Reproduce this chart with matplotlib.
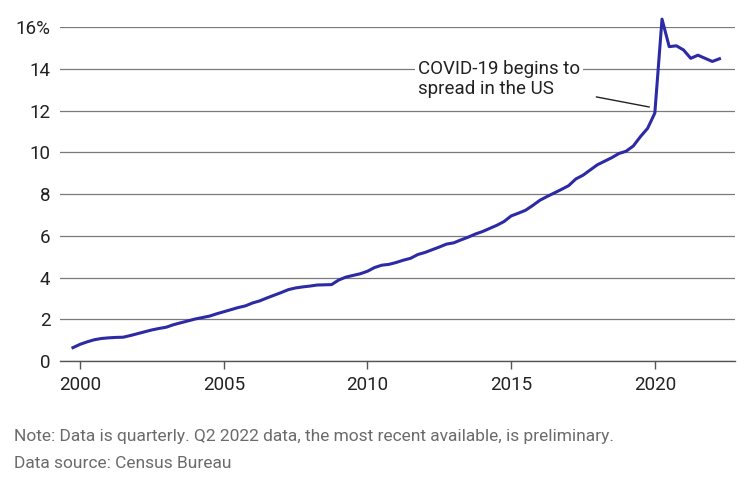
import matplotlib
matplotlib.use("Agg")
import matplotlib.pyplot as plt

plt.rcParams['font.family'] = ['Roboto', 'DejaVu Sans']

# Quarterly e-commerce share of retail sales (%), Q4 1999 - Q2 2022
first_year = 1999.75
share = [
    0.64,
    0.80, 0.92, 1.02, 1.08,   # 2000
    1.11, 1.13, 1.14, 1.22,   # 2001
    1.31, 1.40, 1.49, 1.56,   # 2002
    1.62, 1.74, 1.83, 1.92,   # 2003
    2.01, 2.08, 2.15, 2.26,   # 2004
    2.36, 2.46, 2.56, 2.64,   # 2005
    2.78, 2.88, 3.02, 3.15,   # 2006
    3.28, 3.42, 3.50, 3.55,   # 2007
    3.59, 3.64, 3.65, 3.66,   # 2008
    3.88, 4.02, 4.10, 4.18,   # 2009
    4.30, 4.48, 4.59, 4.63,   # 2010
    4.72, 4.83, 4.92, 5.10,   # 2011
    5.20, 5.33, 5.46, 5.60,   # 2012
    5.66, 5.80, 5.93, 6.08,   # 2013
    6.20, 6.35, 6.50, 6.68,   # 2014
    6.95, 7.08, 7.22, 7.45,   # 2015
    7.70, 7.88, 8.05, 8.22,   # 2016
    8.40, 8.72, 8.90, 9.15,   # 2017
    9.40, 9.57, 9.74, 9.94,   # 2018
    10.05, 10.30, 10.75, 11.15,  # 2019
    11.88, 16.38, 15.06, 15.10,  # 2020
    14.90, 14.50, 14.65, 14.50,  # 2021
    14.35, 14.48,                # 2022
]
dates = [first_year + 0.25 * i for i in range(len(share))]

year_ticks = [2000, 2005, 2010, 2015, 2020]
y_ticks = [0, 2, 4, 6, 8, 10, 12, 14, 16]
y_labels = ['0', '2', '4', '6', '8', '10', '12', '14', '16%']

note = "Note: Data is quarterly. Q2 2022 data, the most recent available, is preliminary."
source = "Data source: Census Bureau"

fig = plt.figure(figsize=(7.5, 4.86), dpi=100)
ax = fig.add_axes([0.08, 0.2572, 0.90, 0.6872])

ax.plot(dates, share, color='#2d2aa6', linewidth=2.2, clip_on=False,
        solid_joinstyle='round', zorder=3)

ax.set_xlim(1999.30, 2022.79)
ax.set_ylim(0, 16)
ax.set_xticks(year_ticks)
ax.set_xticklabels([str(y) for y in year_ticks])
ax.set_yticks(y_ticks)
ax.set_yticklabels(y_labels)

ax.grid(axis='y', color='#7a7a7a', linewidth=0.9)
ax.set_axisbelow(True)
for side in ['left', 'right', 'top']:
    ax.spines[side].set_visible(False)
ax.spines['bottom'].set_color('#555555')
ax.spines['bottom'].set_linewidth(1.0)

ax.tick_params(axis='y', length=0, pad=7, labelsize=13.5, labelcolor='#222222')
ax.tick_params(axis='x', length=6, width=1, color='#555555', pad=5,
               labelsize=13.5, labelcolor='#222222')

# annotation
ax.text(2011.76, 13.5, "COVID-19 begins to\nspread in the US", fontsize=13.5,
        color='#222222', ha='left', va='center', linespacing=1.15,
        bbox=dict(facecolor='white', edgecolor='none', pad=2), zorder=4)
ax.plot([2017.97, 2019.80], [12.65, 12.17], color='#222222', linewidth=1.0, zorder=4)

fig.text(14 / 750, 1 - 437 / 486, note, fontsize=12.5, color='#6b6b6b', va='center')
fig.text(14 / 750, 1 - 463 / 486, source, fontsize=12.5, color='#6b6b6b', va='center')

fig.savefig('out.png', dpi=100)
